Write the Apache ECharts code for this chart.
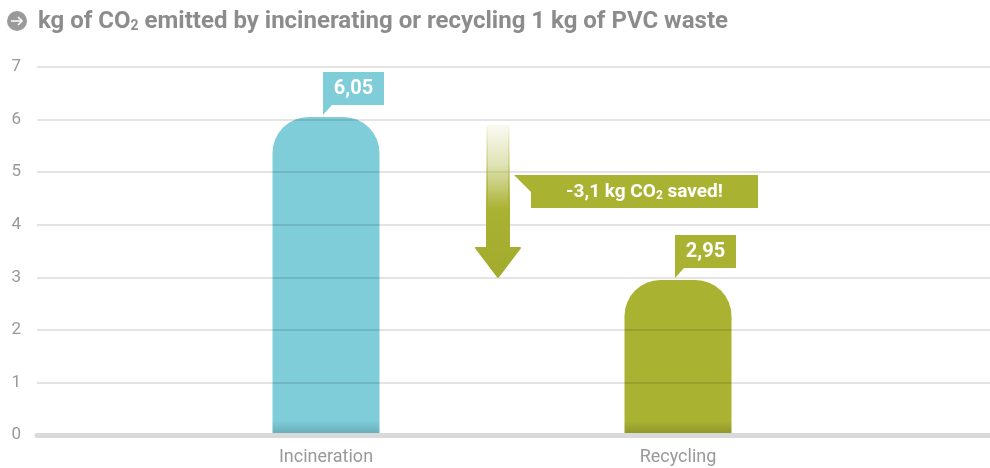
<!DOCTYPE html>
<html>
<head>
<meta charset="utf-8">
<script src="https://cdn.jsdelivr.net/npm/echarts@6/dist/echarts.min.js"></script>
<style>
  html, body { margin: 0; padding: 0; background: #fff; }
  #main { width: 990px; height: 468px; }
</style>
</head>
<body>
<div id="main"></div>
<script>
// data
var categories = ['Incineration', 'Recycling'];
var values = [6.05, 2.95];
var yTicks = [0, 1, 2, 3, 4, 5, 6, 7];
var barColors = ['#7ecdd8', '#aab232'];
var barDark = ['#67a9b6', '#8c9429'];

function fmt(v) {
  return String(v).replace('.', ',');
}

var myChart = echarts.init(document.getElementById('main'));

// callout boxes above bars
function renderCallout(params, api) {
  var i = api.value(0);
  var p = api.coord([i, api.value(1)]);
  var left = p[0] - 3, w = 61, h = 33;
  var bottom = p[1] - 12;
  var top = bottom - h;
  return {
    type: 'group',
    children: [
      {
        type: 'polygon',
        shape: { points: [[left, top], [left + w, top], [left + w, bottom], [left + 9, bottom], [left, bottom + 10], [left, top]] },
        style: { fill: barColors[i] }
      },
      {
        type: 'text',
        style: {
          text: fmt(api.value(1)),
          x: left + w / 2, y: top + h / 2 + 1,
          align: 'center', verticalAlign: 'middle',
          fill: '#fff', font: 'bold 20px Roboto'
        }
      }
    ]
  };
}

// arrow + "saved" callout
function renderArrow(params, api) {
  var hi = api.value(1), lo = api.value(2);
  var x0 = api.coord([0, hi])[0], x1 = api.coord([1, lo])[0];
  var cx = (x0 + x1) / 2 - 4;
  var yTop = api.coord([0, hi])[1] + 9;
  var yTip = api.coord([1, lo])[1] - 3;
  var headH = 29, sw = 11, hw = 23;
  var yHead = yTip - headH;
  var olive = '#aab232';
  var grad = new echarts.graphic.LinearGradient(0, 0, 0, 1, [
    { offset: 0, color: 'rgba(170,178,50,0.05)' },
    { offset: 0.25, color: 'rgba(170,178,50,0.35)' },
    { offset: 0.55, color: 'rgba(170,178,50,1)' },
    { offset: 1, color: '#a3ab2e' }
  ]);
  var midY = (api.coord([0, hi])[1] + api.coord([1, lo])[1]) / 2 - 7;
  var bl = cx + 33, bw = 227, bh = 33, bt = midY - bh / 2;
  var saved = fmt(Math.round((hi - lo) * 10) / 10);
  return {
    type: 'group',
    children: [
      {
        type: 'polygon',
        shape: { points: [[cx - sw, yTop], [cx + sw, yTop], [cx + sw, yHead], [cx + hw - 1, yHead], [cx, yTip], [cx - hw + 1, yHead], [cx - sw, yHead]] },
        style: { fill: grad, stroke: grad, lineWidth: 2, lineJoin: 'round' }
      },
      {
        type: 'polygon',
        shape: { points: [[bl - 17, bt], [bl + bw, bt], [bl + bw, bt + bh], [bl, bt + bh], [bl, bt + 17]] },
        style: { fill: olive }
      },
      {
        type: 'text',
        style: {
          text: '{a|-' + saved + ' kg CO}{s|2}{a| saved!}',
          x: bl + bw / 2, y: bt + bh / 2 + 1,
          align: 'center', verticalAlign: 'middle',
          rich: {
            a: { fill: '#fff', font: 'bold 19px Roboto' },
            s: { fill: '#fff', font: 'bold 12px Roboto', padding: [7, 0, 0, 0] }
          }
        }
      }
    ]
  };
}

var option = {
  animation: false,
  title: {
    text: '{a|kg of CO}{s|2}{a| emitted by incinerating or recycling 1 kg of PVC waste}',
    left: 33, top: 5,
    textStyle: {
      rich: {
        a: { fontFamily: 'Roboto', fontWeight: 'bold', fontSize: 24, color: '#8c8c8c' },
        s: { fontFamily: 'Roboto', fontWeight: 'bold', fontSize: 14, color: '#8c8c8c', padding: [9, 0, 0, 0] }
      }
    }
  },
  graphic: [
    { type: 'circle', shape: { cx: 17, cy: 21, r: 10 }, style: { fill: '#9a9a9a' } },
    { type: 'polyline', shape: { points: [[11, 21], [22, 21]] }, style: { stroke: '#fff', lineWidth: 1.5 } },
    { type: 'polyline', shape: { points: [[18, 17], [22, 21], [18, 25]] }, style: { stroke: '#fff', lineWidth: 1.5, fill: null } }
  ],
  grid: [
    { left: 37, right: 0, top: 67, bottom: 33 },
    { left: 150, right: 136, top: 67, bottom: 33 }
  ],
  xAxis: [
    {
      gridIndex: 0, type: 'value', min: 0, max: 1,
      axisLine: { show: true, lineStyle: { color: '#d9d9d9', width: 5 } },
      axisTick: { show: false }, axisLabel: { show: false }, splitLine: { show: false },
      z: 5
    },
    {
      gridIndex: 1, type: 'category', data: categories,
      axisLine: { show: false }, axisTick: { show: false },
      axisLabel: { color: '#999', fontFamily: 'Roboto', fontSize: 18, margin: 13 }
    }
  ],
  yAxis: [
    {
      gridIndex: 0, type: 'value', min: yTicks[0], max: yTicks[yTicks.length - 1], interval: 1,
      axisLine: { show: false }, axisTick: { show: false },
      axisLabel: { color: '#999', fontFamily: 'Roboto', fontSize: 17, margin: 16 },
      splitLine: { lineStyle: { color: 'rgba(0,0,0,0.14)', width: 1.5 } },
      z: 5
    },
    {
      gridIndex: 1, type: 'value', min: yTicks[0], max: yTicks[yTicks.length - 1], show: false
    }
  ],
  series: [
    {
      type: 'bar', xAxisIndex: 1, yAxisIndex: 1,
      barWidth: 107,
      data: values.map(function (v, i) {
        var fade = 1 - 0.27 / v;
        return {
          value: v,
          itemStyle: {
            borderRadius: [36, 36, 0, 0],
            color: new echarts.graphic.LinearGradient(0, 0, 0, 1, [
              { offset: 0, color: barColors[i] },
              { offset: fade, color: barColors[i] },
              { offset: 1, color: barDark[i] }
            ])
          }
        };
      })
    },
    {
      type: 'custom', xAxisIndex: 1, yAxisIndex: 1,
      renderItem: renderCallout,
      encode: { x: 0, y: 1 },
      data: values.map(function (v, i) { return [i, v]; }),
      z: 6
    },
    {
      type: 'custom', xAxisIndex: 1, yAxisIndex: 1,
      renderItem: renderArrow,
      encode: { x: 0, y: [1, 2] },
      data: [[0, values[0], values[1]]],
      z: 6
    }
  ]
};

myChart.setOption(option);
</script>
</body>
</html>
